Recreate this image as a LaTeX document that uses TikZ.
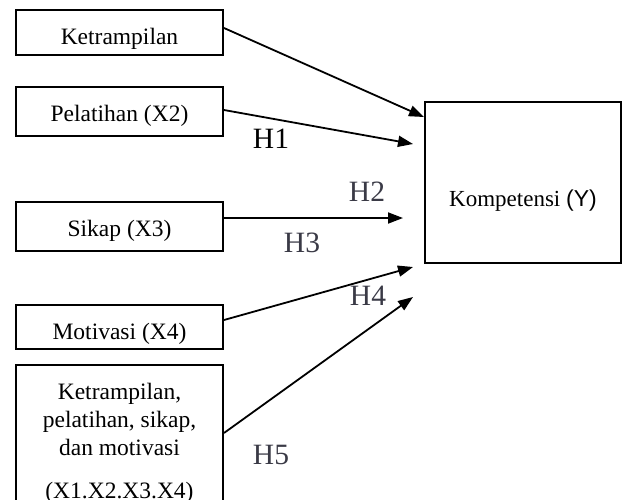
\documentclass[tikz,border=0pt]{standalone}
\usepackage{fontspec}
\setmainfont{Liberation Serif}
\newfontfamily\ysans{Liberation Sans}
\usepackage{xcolor}
\usetikzlibrary{arrows.meta, positioning}
\definecolor{hgray}{RGB}{58,58,70}

\begin{document}
\begin{tikzpicture}[
  x=1pt, y=-1pt,
  box/.style={draw, line width=2pt, minimum width=207pt, align=center, inner sep=0pt, font=\fontsize{23.5}{28}\selectfont},
  hlab/.style={font=\fontsize{29.5}{30}\selectfont, text=hgray, inner sep=0pt},
  arr/.style={-{Triangle[length=15pt, width=11pt]}, line width=1.8pt}]
\path[use as bounding box] (0,0) rectangle (622,499);
\clip (0,0) rectangle (622,499);
\node[box, minimum height=45pt, text height=28pt] (ketr) at (119.5,32.5) {Ketrampilan};
\node[box, minimum height=49pt, text height=24pt] (pelat) at (119.5,111.5) {Pelatihan (X2)};
\node[box, minimum height=49pt, text height=24pt] (sikap) at (119.5,226.5) {Sikap (X3)};
\node[box, minimum height=44pt, text height=30pt] (motiv) at (119.5,327) {Motivasi (X4)};
\node[box, minimum height=156pt] (semua) at (119.5,443) {Ketrampilan,\\pelatihan, sikap,\\dan motivasi\\[15pt](X1.X2.X3.X4)};
\node[box, minimum width=196pt, minimum height=161pt] (komp) at (523,182.5) {};
\node[font=\fontsize{23}{27}\selectfont, inner sep=0pt] (komptext) at (523,201) {Kompetensi {\ysans(Y)}};
% arrow ends
\coordinate (t1) at (424,117);
\coordinate (t2) at (413,144);
\coordinate (t3) at (403,218);
\coordinate (t4) at (413,267);
\coordinate (t5) at (413,297);
\draw[arr] ([yshift=4.5pt]ketr.east) -- (t1);
\draw[arr] ([yshift=1.5pt]pelat.east) -- (t2);
\draw[arr] ([yshift=8.5pt]sikap.east) -- (t3);
\draw[arr] ([yshift=7pt]motiv.east) -- (t4);
\draw[arr] ([yshift=10pt]semua.east) -- (t5);
\node[hlab, text=black] (h1) at (271,139) {H1};
\node[hlab] (h2) at (367,192) {H2};
\node[hlab] (h3) at (302,243) {H3};
\node[hlab] (h4) at (368,296) {H4};
\node[hlab] (h5) at (271,455) {H5};
\end{tikzpicture}
\end{document}
